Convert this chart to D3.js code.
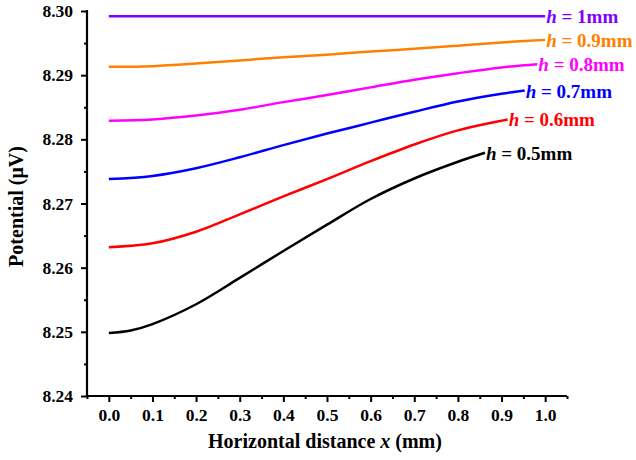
<!DOCTYPE html>
<html>
<head>
<meta charset="utf-8">
<script src="https://cdn.jsdelivr.net/npm/d3@7"></script>
<style>
  body { margin: 0; background: #fff; }
  svg text { font-family: "Liberation Serif", "Times New Roman", serif; font-weight: bold; }
</style>
</head>
<body>
<div id="chart"></div>
<script>
// data
var hLabels = ["1", "0.9", "0.8", "0.7", "0.6", "0.5"];
var colors = ["#8000ff", "#ff8000", "#ff00ff", "#0000ff", "#ff0000", "#000000"];

var xs_h10 = [0, 0.5, 1.0];
var ys_h10 = [8.2992, 8.2992, 8.2992];

var xs_h09 = [0, 0.1, 0.2, 0.3, 0.4, 0.5, 0.6, 0.7, 0.8, 0.9, 1.0];
var ys_h09 = [8.2913, 8.2914, 8.2918, 8.2923, 8.2928, 8.2932, 8.2937, 8.2941, 8.2946, 8.2951, 8.2955];

var xs_h08 = [0, 0.1, 0.2, 0.3, 0.4, 0.5, 0.6, 0.7, 0.8, 0.9, 0.982];
var ys_h08 = [8.2829, 8.2831, 8.2837, 8.2846, 8.2858, 8.2869, 8.2881, 8.2893, 8.2903, 8.2912, 8.2917];

var xs_h07 = [0, 0.1, 0.2, 0.3, 0.4, 0.5, 0.6, 0.7, 0.8, 0.9, 0.953];
var ys_h07 = [8.2738, 8.2743, 8.2755, 8.2772, 8.2791, 8.2809, 8.2826, 8.2843, 8.2859, 8.2871, 8.2876];

var xs_h06 = [0, 0.1, 0.2, 0.3, 0.4, 0.5, 0.6, 0.7, 0.8, 0.9, 0.914];
var ys_h06 = [8.2632, 8.2638, 8.2656, 8.2683, 8.2711, 8.2738, 8.2766, 8.2792, 8.2814, 8.2829, 8.2831];

var xs_h05 = [0, 0.05, 0.1, 0.2, 0.3, 0.4, 0.5, 0.6, 0.7, 0.8, 0.862];
var ys_h05 = [8.2498, 8.2502, 8.2512, 8.2543, 8.2584, 8.2626, 8.2667, 8.2707, 8.2739, 8.2765, 8.2779];

var xTicks = [0, 0.1, 0.2, 0.3, 0.4, 0.5, 0.6, 0.7, 0.8, 0.9, 1.0];
var yTicks = [8.24, 8.25, 8.26, 8.27, 8.28, 8.29, 8.30];

var seriesX = [xs_h10, xs_h09, xs_h08, xs_h07, xs_h06, xs_h05];
var seriesY = [ys_h10, ys_h09, ys_h08, ys_h07, ys_h06, ys_h05];

var width = 636, height = 460;
var margin = {left: 87, top: 11, right: 69, bottom: 64};

var svg = d3.select("#chart").append("svg")
    .attr("width", width)
    .attr("height", height);

var x = d3.scaleLinear().domain([-0.05, 1.05])
    .range([margin.left, width - margin.right]);
var y = d3.scaleLinear().domain([8.24, 8.30])
    .range([height - margin.bottom, margin.top]);

// minor ticks half way between the majors
var xMinor = d3.range(-0.05, 1.051, 0.1).map(function (d) { return +d.toFixed(2); });
var yMinor = d3.range(8.245, 8.30, 0.01).map(function (d) { return +d.toFixed(3); });

var xAxis = svg.append("g")
    .attr("transform", "translate(0," + y(8.24) + ")")
    .call(d3.axisBottom(x).tickValues(xTicks).tickSize(6).tickPadding(7)
        .tickFormat(d3.format(".1f")));
svg.append("g")
    .attr("transform", "translate(0," + y(8.24) + ")")
    .call(d3.axisBottom(x).tickValues(xMinor).tickSize(3).tickFormat(""))
    .select(".domain").remove();

var yAxis = svg.append("g")
    .attr("transform", "translate(" + x(-0.05) + ",0)")
    .call(d3.axisLeft(y).tickValues(yTicks).tickSize(6).tickPadding(8)
        .tickFormat(d3.format(".2f")));
svg.append("g")
    .attr("transform", "translate(" + x(-0.05) + ",0)")
    .call(d3.axisLeft(y).tickValues(yMinor).tickSize(3).tickFormat(""))
    .select(".domain").remove();

// plain axis lines, no end caps
xAxis.select(".domain").attr("stroke-width", 2.2).attr("d", "M" + x(-0.05) + ",0H" + x(1.05));
yAxis.select(".domain").attr("stroke-width", 2.2).attr("d", "M0," + y(8.24) + "V" + (y(8.30) - 1));
svg.selectAll(".tick line").attr("stroke-width", 2);
svg.selectAll(".tick text").attr("font-size", 17.5).attr("fill", "#000");

// lines
var line = d3.line()
    .x(function (d) { return x(d[0]); })
    .y(function (d) { return y(d[1]); })
    .curve(d3.curveCatmullRom.alpha(0.5));

seriesX.forEach(function (xs, i) {
    var pts = xs.map(function (v, j) { return [v, seriesY[i][j]]; });
    svg.append("path")
        .datum(pts)
        .attr("fill", "none")
        .attr("stroke", colors[i])
        .attr("stroke-width", 2.5)
        .attr("d", line);

    var last = pts[pts.length - 1];
    var t = svg.append("text")
        .attr("x", x(last[0]) + 1)
        .attr("y", y(last[1]) + 7)
        .attr("font-size", 19)
        .attr("fill", colors[i]);
    t.append("tspan").attr("font-style", "italic").text("h");
    t.append("tspan").text(" = " + hLabels[i] + "mm");
});

// axis titles
var xt = svg.append("text")
    .attr("x", (x(-0.05) + x(1.05)) / 2 - 2)
    .attr("y", 448)
    .attr("text-anchor", "middle")
    .attr("font-size", 20);
xt.append("tspan").text("Horizontal distance ");
xt.append("tspan").attr("font-style", "italic").text("x");
xt.append("tspan").text(" (mm)");

svg.append("text")
    .attr("transform", "translate(23," + (y(8.27) + 3) + ") rotate(-90)")
    .attr("text-anchor", "middle")
    .attr("font-size", 20)
    .text("Potential (\u03bcV)");
</script>
</body>
</html>
